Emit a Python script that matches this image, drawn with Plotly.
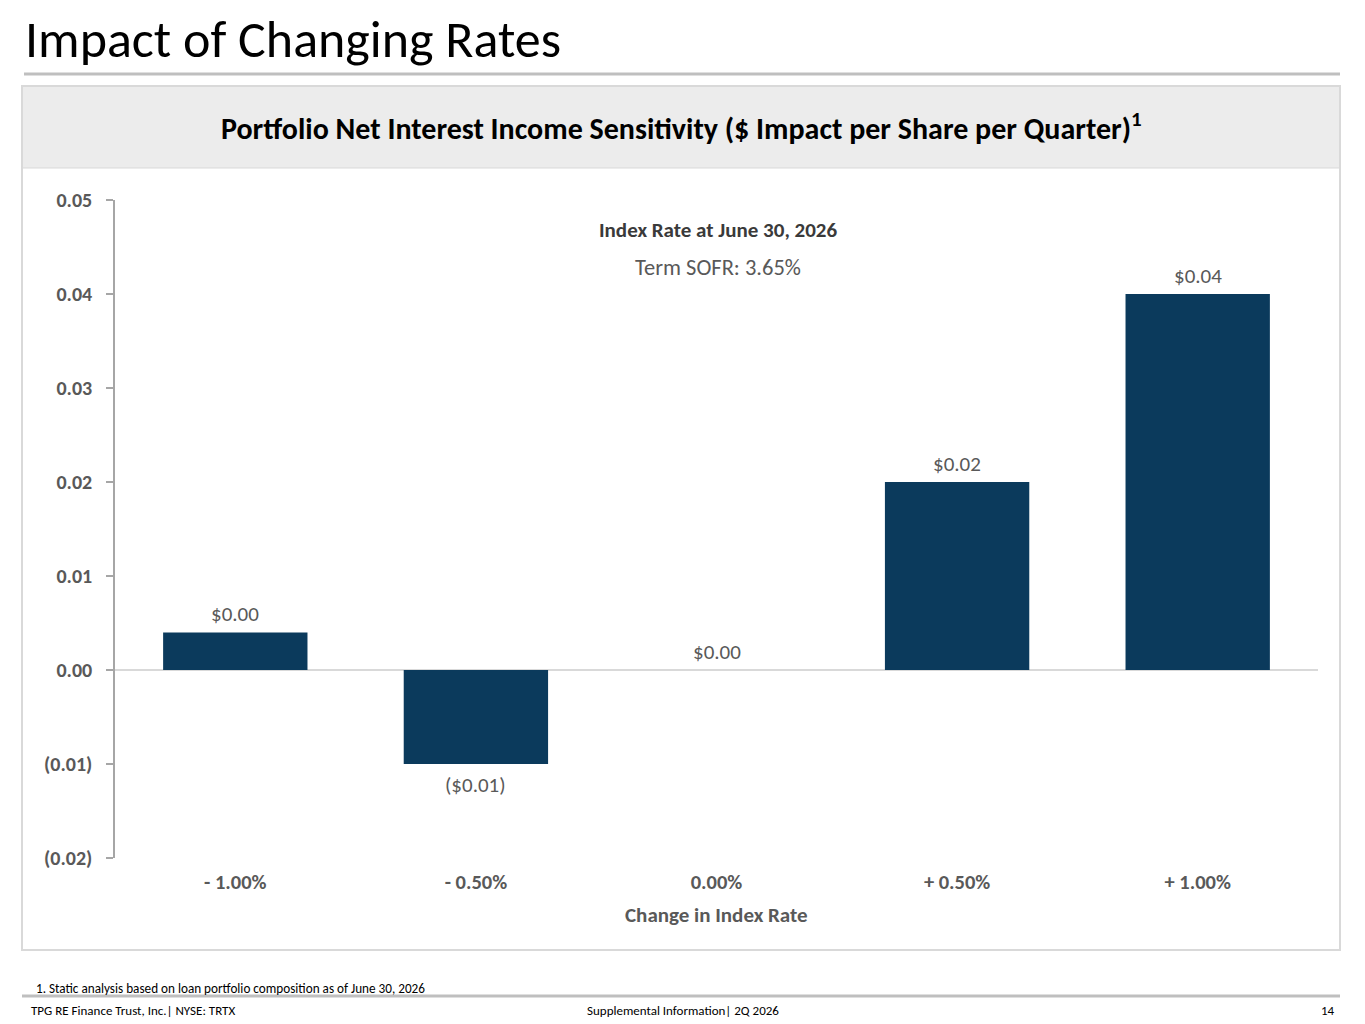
import plotly.graph_objects as go

# values
categorias = ['- 1.00%', '- 0.50%', '0.00%', '+ 0.50%', '+ 1.00%']
impacto = [0.004, -0.01, 0.0, 0.02, 0.04]
rotulos = ['$0.00', '($0.01)', '$0.00', '$0.02', '$0.04']
ticks_y = [0.05, 0.04, 0.03, 0.02, 0.01, 0.0, -0.01, -0.02]
ticks_y_texto = ['0.05', '0.04', '0.03', '0.02', '0.01', '0.00', '(0.01)', '(0.02)']

# page is drawn 8px in from the browser edge (body margin), so work in slide pixels minus 8
OFF = 8
W, H = 1365 - OFF, 1024 - OFF
ML, MR, MT, MB = 115 - OFF, 47, 200 - OFF, 166
FONTE = 'Carlito, Calibri, Lato, sans-serif'
CINZA = '#595959'


def px(x):
    return (x - OFF - ML) / (W - ML - MR)


def py(y):
    return (H - MB - (y - OFF)) / (H - MT - MB)


fig = go.Figure()
fig.add_trace(go.Bar(
    x=categorias, y=impacto,
    marker=dict(color='#0b3a5c', line=dict(width=0)),
    hoverinfo='skip'
))

shapes = [
    # header band and panel border
    dict(type='rect', xref='paper', yref='paper', x0=px(22), x1=px(1340), y0=py(950), y1=py(86),
         line=dict(color='#d9d9d9', width=2), fillcolor='rgba(0,0,0,0)', layer='below'),
    dict(type='rect', xref='paper', yref='paper', x0=px(23), x1=px(1339), y0=py(168), y1=py(87),
         line=dict(width=0), fillcolor='#ececec', layer='below'),
    dict(type='line', xref='paper', yref='paper', x0=px(23), x1=px(1339), y0=py(168), y1=py(168),
         line=dict(color='#d9d9d9', width=1)),
    # rule under page title
    dict(type='line', xref='paper', yref='paper', x0=px(24), x1=px(1340), y0=py(74), y1=py(74),
         line=dict(color='#bfbfbf', width=3)),
    # footer rule
    dict(type='line', xref='paper', yref='paper', x0=px(22), x1=px(1340), y0=py(996), y1=py(996),
         line=dict(color='#bfbfbf', width=3)),
]

annotations = [
    dict(text='Impact of Changing Rates', x=px(23), y=py(39), xanchor='left', yanchor='middle',
         font=dict(size=52, color='#000000', family=FONTE)),
    dict(text='<b>Portfolio Net Interest Income Sensitivity ($ Impact per Share per Quarter)<sup>1</sup></b>',
         x=px(681), y=py(126), xanchor='center', yanchor='middle',
         font=dict(size=30, color='#000000', family=FONTE)),
    dict(text='<b>Index Rate at June 30, 2026</b>', x=px(718), y=py(230), xanchor='center', yanchor='middle',
         font=dict(size=21, color='#3a3a3a', family=FONTE)),
    dict(text='Term SOFR: 3.65%', x=px(718), y=py(267), xanchor='center', yanchor='middle',
         font=dict(size=22.5, color=CINZA, family=FONTE)),
    dict(text='<b>Change in Index Rate</b>', x=px(716), y=py(915), xanchor='center', yanchor='middle',
         font=dict(size=21, color=CINZA, family=FONTE)),
    dict(text='1. Static analysis based on loan portfolio composition as of June 30, 2026',
         x=px(34), y=py(988), xanchor='left', yanchor='middle',
         font=dict(size=13.2, color='#000000', family=FONTE)),
    dict(text='TPG RE Finance Trust, Inc.| NYSE: TRTX', x=px(29), y=py(1010), xanchor='left', yanchor='middle',
         font=dict(size=13, color='#000000', family=FONTE)),
    dict(text='Supplemental Information| 2Q 2026', x=px(683), y=py(1010), xanchor='center', yanchor='middle',
         font=dict(size=13, color='#000000', family=FONTE)),
    dict(text='14', x=px(1337), y=py(1010), xanchor='right', yanchor='middle',
         font=dict(size=13, color='#000000', family=FONTE)),
]
for a in annotations:
    a.update(xref='paper', yref='paper', showarrow=False)

# value labels sit on the bars through the data axes
for cat, val, rot in zip(categorias, impacto, rotulos):
    annotations.append(dict(
        x=cat, y=val, xref='x', yref='y', text=rot, showarrow=False,
        yanchor='middle', yshift=18 if val >= 0 else -21,
        font=dict(size=21, color=CINZA, family=FONTE)))

fig.update_layout(
    width=W, height=H,
    margin=dict(l=ML, r=MR, t=MT, b=MB, autoexpand=False),
    paper_bgcolor='white', plot_bgcolor='white',
    font=dict(family=FONTE),
    bargap=0.4, showlegend=False,
    shapes=shapes, annotations=annotations,
    xaxis=dict(showline=False, showgrid=False, zeroline=False, ticks='',
               tickvals=categorias, ticktext=[f'<b>{c}</b>' for c in categorias],
               tickfont=dict(size=20.5, color=CINZA, family=FONTE), ticklabelstandoff=9),
    yaxis=dict(range=[-0.02, 0.05], tickvals=ticks_y, ticktext=[f'<b>{t}</b>' for t in ticks_y_texto],
               showgrid=False, zeroline=True, zerolinecolor='#d9d9d9', zerolinewidth=1.5,
               showline=True, linecolor='#a6a6a6', linewidth=1.5,
               ticks='outside', ticklen=7, tickcolor='#a6a6a6', tickwidth=1.5,
               tickfont=dict(size=20, color=CINZA, family=FONTE), ticklabelstandoff=10),
)

fig.write_html('out.html')
